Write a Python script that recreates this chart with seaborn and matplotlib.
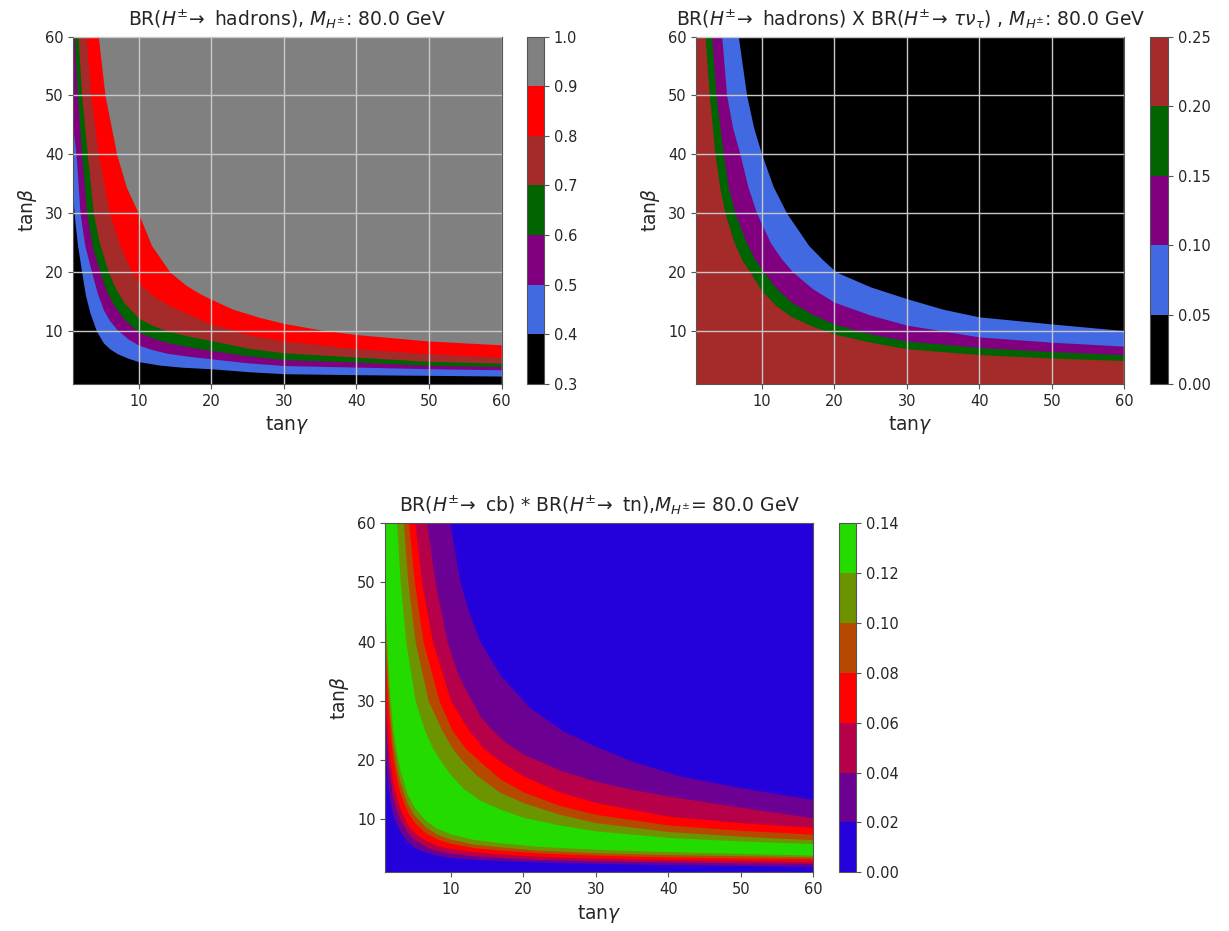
import numpy as np
import matplotlib
matplotlib.use("Agg")
import matplotlib.pyplot as plt
from matplotlib.colors import ListedColormap, BoundaryNorm
from matplotlib.cm import ScalarMappable
import seaborn as sns

# ---------------- data (contour boundaries) ----------------
# Panel 1: BR(H -> hadrons); boundary curves tan(beta) vs tan(gamma) for each level
had_levels = [0.3, 0.4, 0.5, 0.6, 0.7, 0.8, 0.9, 1.0]
had_colors = ["black", "royalblue", "purple", "darkgreen", "brown", "red", "gray"]
had_b40_x = [1.0, 1.2, 1.6, 2.17, 2.7, 3.3, 4.2, 5.15, 6.0, 7.0, 8.5, 10, 13, 16, 20, 25, 30, 40, 50, 60]
had_b40_y = [32, 29, 24.5, 20, 16, 13.1, 10.0, 8.0, 7.0, 6.2, 5.4, 4.8, 4.2, 3.85, 3.59, 3.1, 2.75, 2.58, 2.47, 2.35]
had_b50_x = [1.0, 1.2, 1.45, 1.94, 2.6, 3.54, 4.3, 5.2, 6.0, 7.0, 8.5, 10, 12, 14, 17, 20, 25, 30, 40, 50, 60]
had_b50_y = [44, 42, 39, 30, 24.5, 20, 16.5, 13.5, 11.8, 10.3, 8.7, 7.6, 6.8, 6.2, 5.7, 5.28, 4.6, 4.14, 3.87, 3.6, 3.42]
had_b60_x = [1.15, 1.57, 2.17, 2.85, 3.7, 4.69, 5.5, 6.5, 8.0, 10, 12, 14, 17, 20, 25, 30, 40, 50, 60]
had_b60_y = [60, 50, 40, 30, 24, 20, 17, 14.6, 12, 9.8, 8.8, 8.0, 7.3, 6.69, 5.8, 5.15, 4.72, 4.16, 3.98]
had_b70_x = [1.66, 2.17, 2.95, 3.77, 4.6, 5.84, 6.8, 8.0, 10, 12, 14, 17, 20, 25, 30, 40, 50, 60]
had_b70_y = [60, 50, 40, 30, 25, 20, 17.3, 14.8, 12.2, 10.9, 10.0, 9.1, 8.38, 7.1, 6.3, 5.57, 4.84, 4.55]
had_b80_x = [2.8, 3.41, 4.46, 5.98, 7.3, 9.05, 10.5, 12.0, 14, 16.2, 20, 25, 30, 40, 50, 60]
had_b80_y = [60, 50, 40, 30, 25, 20, 17.6, 16.0, 14.5, 13.2, 11.2, 9.4, 8.3, 7.0, 6.14, 5.57]
had_b90_x = [4.46, 5.38, 6.99, 8.3, 9.97, 11.8, 14.33, 16.5, 18.5, 20, 23, 26.7, 30, 35, 40, 50, 60]
had_b90_y = [60, 50, 40, 34.5, 30, 24.5, 20, 17.8, 16.3, 15.4, 13.7, 12.3, 11.3, 10.2, 9.4, 8.3, 7.65]

# Panel 2: BR(hadrons) x BR(tau nu)
tau_levels = [0.0, 0.05, 0.10, 0.15, 0.20, 0.25]
tau_colors = ["black", "royalblue", "purple", "darkgreen", "brown"]
tau_c20_x = [2.19, 2.78, 3.57, 4.2, 4.94, 6.2, 7.3, 8.4, 10, 12, 14, 17, 20, 25, 30, 40, 50, 60]
tau_c20_y = [60, 50, 40, 34.5, 30, 25, 22, 20, 16.8, 14.3, 12.5, 10.8, 9.5, 8.1, 7.0, 6.0, 5.4, 5.0]
tau_c15_x = [3.11, 3.70, 4.71, 5.4, 6.32, 7.9, 9.0, 10.3, 12, 14, 17, 20, 25, 30, 40, 50, 60]
tau_c15_y = [60, 50, 40, 34.5, 30, 25, 22.3, 20, 17.3, 15.0, 12.8, 11.2, 9.5, 8.3, 7.2, 6.5, 5.96]
tau_c10_x = [4.49, 5.17, 6.0, 7.01, 8.1, 9.31, 11.2, 12.7, 14.3, 17, 20, 25, 30, 40, 50, 60]
tau_c10_y = [60, 50, 44.5, 40, 34.5, 30, 25, 22.3, 20, 17.2, 14.9, 12.7, 11.0, 9.0, 8.1, 7.43]
tau_c05_x = [6.78, 7.93, 8.9, 10.0, 11.6, 13.45, 16.5, 18.5, 20.3, 25, 30, 35, 40, 50, 60]
tau_c05_y = [60, 50, 44.5, 40, 34.5, 30, 24.5, 22, 20, 17.5, 15.5, 13.7, 12.4, 11.2, 10.07]

# Panel 3: BR(cb) * BR(tn); rising (lower) and falling (upper) boundaries
cbt_levels = [0.0, 0.02, 0.04, 0.06, 0.08, 0.10, 0.12, 0.14]
cbt_low_x = [1.0, 1.3, 1.6, 2.0, 2.5, 3.0, 4.0, 5.0, 6.5, 8.0, 10, 13, 16.8, 22, 30, 40, 50, 60]
cbt_r02_y = [20.5, 16, 13.3, 11, 9.2, 7.9, 6.2, 5.2, 4.4, 3.9, 3.5, 3.2, 3.0, 2.75, 2.5, 2.3, 2.15, 2.0]
cbt_r04_y = [26, 20.5, 17, 14, 11.7, 10, 7.8, 6.5, 5.4, 4.7, 4.2, 3.8, 3.5, 3.2, 2.95, 2.75, 2.6, 2.5]
cbt_r06_y = [30, 24, 20, 16.5, 13.8, 11.8, 9.2, 7.7, 6.4, 5.6, 5.0, 4.5, 4.1, 3.7, 3.4, 3.15, 3.0, 2.85]
cbt_r08_y = [37.5, 30, 25, 20.5, 17, 14.5, 11.3, 9.4, 7.7, 6.7, 5.9, 5.2, 4.75, 4.3, 3.9, 3.6, 3.4, 3.3]
cbt_r10_y = [41, 33, 28, 23, 19, 16.3, 12.7, 10.6, 8.7, 7.5, 6.6, 5.8, 5.3, 4.75, 4.3, 4.0, 3.8, 3.6]
cbt_r12_y = [45, 37, 31, 25.5, 21.5, 18.3, 14.3, 12.0, 9.8, 8.5, 7.5, 6.6, 6.0, 5.4, 4.9, 4.5, 4.2, 3.9]
cbt_f12_x = [2.55, 3.05, 3.8, 5.1, 6.4, 7.5, 8.8, 10, 11.7, 14, 16.8, 20, 25, 30, 40, 50, 60]
cbt_f12_y = [60, 50, 40, 30, 25, 22, 19.5, 17.5, 15.2, 13.2, 11.7, 10.3, 9.0, 8.0, 6.9, 6.3, 5.85]
cbt_f10_x = [3.47, 4.1, 5.1, 6.9, 8.8, 10.2, 11.5, 13.5, 16.8, 20, 25, 30, 40, 50, 60]
cbt_f10_y = [60, 50, 40, 30, 25, 22, 20, 17.5, 14.5, 12.8, 10.8, 9.4, 7.9, 7.1, 6.5]
cbt_f08_x = [4.2, 5.0, 6.2, 8.4, 10.2, 12, 13.8, 16.8, 20, 25, 30, 40, 50, 60]
cbt_f08_y = [60, 50, 40, 30, 25, 22, 20, 16.8, 14.6, 12.3, 10.8, 9.0, 8.1, 7.45]
cbt_f06_x = [5.08, 6.0, 7.5, 10.0, 12.5, 14.5, 16.8, 20, 25, 30, 40, 50, 60]
cbt_f06_y = [60, 50, 40, 30, 25, 22, 19.8, 17.3, 14.6, 12.8, 10.5, 9.4, 8.6]
cbt_f04_x = [6.7, 7.85, 9.5, 11.0, 12.2, 14.0, 15.4, 17.5, 20, 25, 30, 35, 40, 50, 60]
cbt_f04_y = [60, 50, 40, 34.5, 31.6, 27.5, 25.5, 23, 21, 18.3, 16.4, 15.0, 13.9, 12.0, 10.2]
cbt_f02_x = [9.9, 11.3, 12.5, 14.05, 16.8, 20.9, 25.5, 30, 35, 41.6, 50, 60]
cbt_f02_y = [60, 50, 45, 40, 34.4, 28.8, 24.9, 22.3, 19.8, 17.3, 15.3, 13.3]

ticks = [10, 20, 30, 40, 50, 60]
axis_min, axis_max = 1, 60

# ---------------- style ----------------
sns.set_style("ticks")
plt.rcParams['font.family'] = ['DejaVu Sans']
plt.rcParams['axes.edgecolor'] = '#555555'
plt.rcParams['axes.linewidth'] = 0.8

fig = plt.figure(figsize=(12.29, 9.31), dpi=100)
W, H = 1229.0, 931.0


def frac_box(x0, y0, x1, y1):
    return [x0 / W, 1 - y1 / H, (x1 - x0) / W, (y1 - y0) / H]


def draw_panel(ax, cax, base, layers, layer_colors, bar_colors, levels, title, grid, tick_fmt):
    ax.fill_between([axis_min, axis_max], axis_min, axis_max, color=base, lw=0)
    for (bx, by), col in zip(layers, layer_colors):
        ax.fill_between(bx, by, axis_max, color=col, lw=0)
    ax.set_xlim(axis_min, axis_max)
    ax.set_ylim(axis_min, axis_max)
    ax.set_xticks(ticks)
    ax.set_yticks(ticks)
    ax.tick_params(labelsize=10.5, length=3.5, color='#555555')
    ax.set_xlabel(r'tan$\gamma$', fontsize=13.5)
    ax.set_ylabel(r'tan$\beta$', fontsize=13.5)
    ax.set_title(title, fontsize=13.5, pad=8)
    if grid:
        ax.set_axisbelow(False)
        ax.grid(True, color='#c8c8c8', lw=1.0)
    cmap = ListedColormap(bar_colors)
    norm = BoundaryNorm(levels, cmap.N)
    cb = fig.colorbar(ScalarMappable(norm=norm, cmap=cmap), cax=cax, ticks=levels)
    cb.ax.set_yticklabels([tick_fmt.format(v) for v in levels])
    cb.ax.tick_params(labelsize=10.5, length=3.5, color='#555555')
    cb.outline.set_edgecolor('#555555')
    cb.outline.set_linewidth(0.8)


t1 = r'BR($H^{\pm}\!\rightarrow$ hadrons), $M_{H^{\pm}}$: 80.0 GeV'
t2 = r'BR($H^{\pm}\!\rightarrow$ hadrons) X BR($H^{\pm}\!\rightarrow\,\tau\nu_{\tau}$) , $M_{H^{\pm}}$: 80.0 GeV'
t3 = r'BR($H^{\pm}\!\rightarrow$ cb) * BR($H^{\pm}\!\rightarrow$ tn),$M_{H^{\pm}}$= 80.0 GeV'

brg = plt.get_cmap('brg')
cbt_colors = [brg((i + 0.5) / 7) for i in range(7)]

# Panel 1
ax1 = fig.add_axes(frac_box(73.2, 36.6, 501.5, 384))
cax1 = fig.add_axes(frac_box(527, 36.6, 544, 384))
had_layers = [(had_b40_x, had_b40_y), (had_b50_x, had_b50_y), (had_b60_x, had_b60_y),
              (had_b70_x, had_b70_y), (had_b80_x, had_b80_y), (had_b90_x, had_b90_y)]
draw_panel(ax1, cax1, had_colors[0], had_layers, had_colors[1:], had_colors,
           had_levels, t1, True, '{:.1f}')

# Panel 2 (value decreases outward: base is the highest band)
ax2 = fig.add_axes(frac_box(696.4, 36.6, 1124.3, 384))
cax2 = fig.add_axes(frac_box(1150, 36.6, 1168, 384))
tau_layers = [(tau_c20_x, tau_c20_y), (tau_c15_x, tau_c15_y),
              (tau_c10_x, tau_c10_y), (tau_c05_x, tau_c05_y)]
draw_panel(ax2, cax2, tau_colors[4], tau_layers, tau_colors[3::-1], tau_colors,
           tau_levels, t2, True, '{:.2f}')

# Panel 3
ax3 = fig.add_axes(frac_box(385.4, 523.3, 813.3, 872.3))
cax3 = fig.add_axes(frac_box(839, 523.3, 856, 872.3))
cbt_layers = [(cbt_low_x, cbt_r02_y), (cbt_low_x, cbt_r04_y), (cbt_low_x, cbt_r06_y),
              (cbt_low_x, cbt_r08_y), (cbt_low_x, cbt_r10_y), (cbt_low_x, cbt_r12_y),
              (cbt_f12_x, cbt_f12_y), (cbt_f10_x, cbt_f10_y), (cbt_f08_x, cbt_f08_y),
              (cbt_f06_x, cbt_f06_y), (cbt_f04_x, cbt_f04_y), (cbt_f02_x, cbt_f02_y)]
cbt_layer_colors = [cbt_colors[i] for i in [1, 2, 3, 4, 5, 6, 5, 4, 3, 2, 1, 0]]
draw_panel(ax3, cax3, cbt_colors[0], cbt_layers, cbt_layer_colors, cbt_colors,
           cbt_levels, t3, False, '{:.2f}')

fig.savefig("out.png", dpi=100)
